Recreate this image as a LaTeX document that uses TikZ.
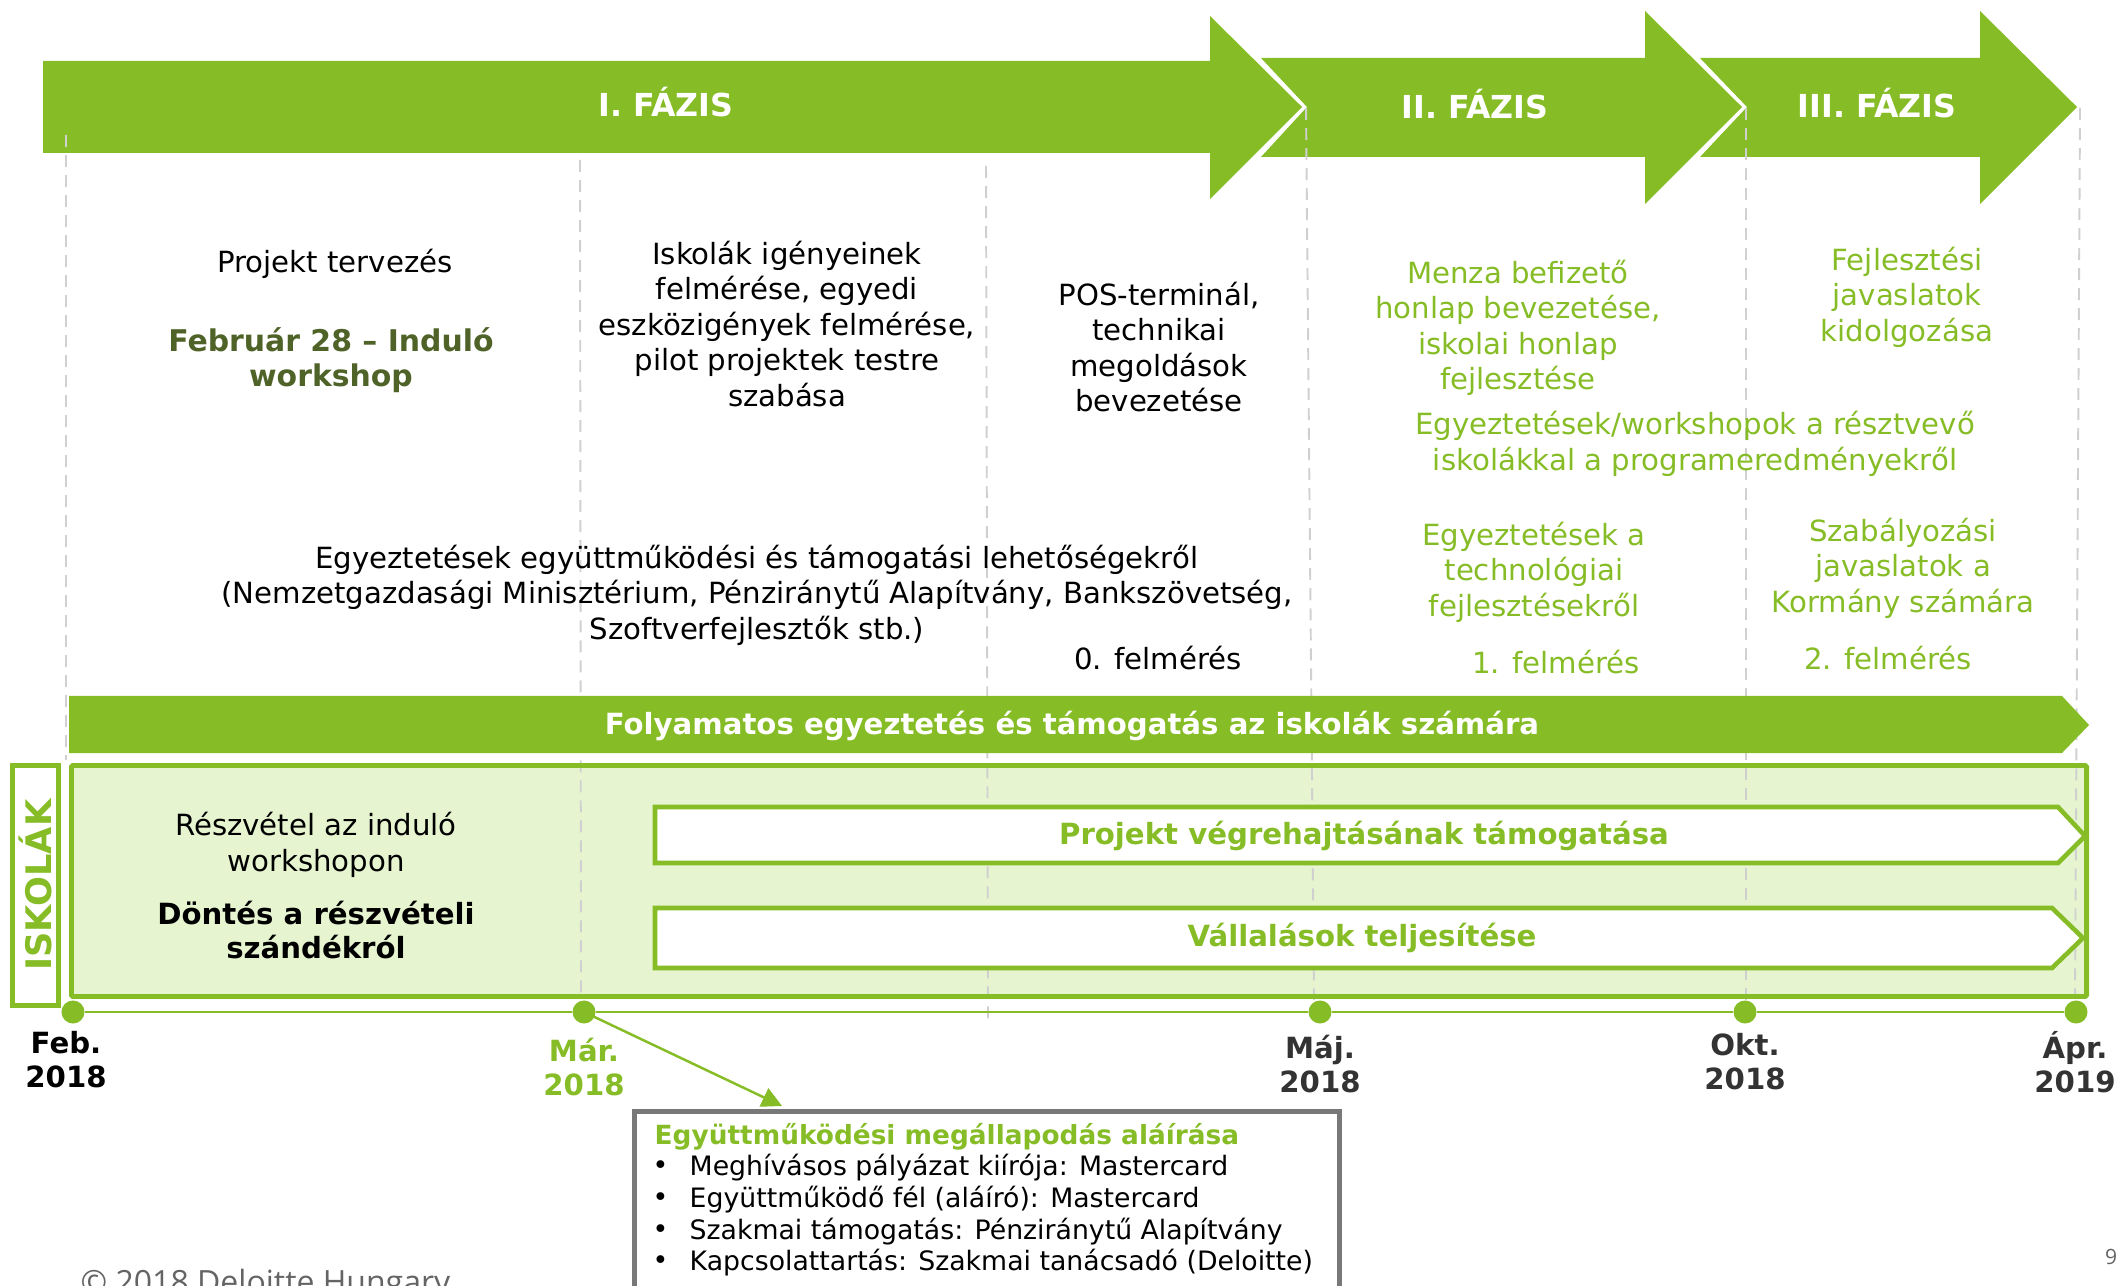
\documentclass[tikz,border=0pt]{standalone}
\usepackage{fontspec}
\setmainfont{DejaVu Sans}
\newfontfamily\copyfont{Open Sans}
\usetikzlibrary{arrows.meta}
\definecolor{dgreen}{RGB}{134,188,37}
\definecolor{lgreen}{RGB}{230,245,208}
\definecolor{olive}{RGB}{79,98,40}
\definecolor{dashgray}{RGB}{208,208,208}
\definecolor{boxgray}{RGB}{120,120,120}
\definecolor{dategray}{RGB}{51,51,51}
\definecolor{copygray}{RGB}{100,100,100}
\begin{document}
\begin{tikzpicture}[x=0.01cm,y=-0.01cm,
  txt/.style={inner sep=0pt, align=center, font=\fontsize{8.3}{10.1}\selectfont},
  gtxt/.style={txt, text=dgreen},
  btxt/.style={inner sep=0pt, align=center, font=\fontsize{8.3}{9.8}\selectfont\bfseries},
  phase/.style={inner sep=0pt, text=white, font=\fontsize{9}{11}\selectfont\bfseries},
  vline/.style={draw=dashgray, line width=0.55pt, dash pattern=on 0.12cm off 0.08cm},
  datelbl/.style={inner sep=0pt, align=center, font=\fontsize{8.3}{9.7}\selectfont\bfseries},
  dotn/.style={circle, fill=dgreen, inner sep=0pt, minimum size=0.23cm},
  chev/.style={draw=dgreen, fill=white, line width=1.3pt, line join=miter},
  boxtxt/.style={inner sep=0pt, anchor=west, font=\fontsize{7.6}{9}\selectfont}
]
\useasboundingbox (0,0) rectangle (2119,1286);
\clip (0,0) rectangle (2119,1286);

% phase arrows
\fill[dgreen] (43,61) -- (1210,61) -- (1210,16) -- (1302,107) -- (1210,199) -- (1210,153) -- (43,153) -- cycle;
\fill[dgreen] (1261,58) -- (1645,58) -- (1645,11) -- (1742,107) -- (1645,204) -- (1645,157) -- (1261,157) -- (1307,107) -- cycle;
\fill[dgreen] (1700,58) -- (1980,58) -- (1980,11) -- (2077,107) -- (1980,204) -- (1980,157) -- (1700,157) -- (1747,107) -- cycle;
\node[phase] (ph1) at (666,102) {I. FÁZIS};
\node[phase] (ph2) at (1475,104) {II. FÁZIS};
\node[phase] (ph3) at (1877,103) {III. FÁZIS};

% light green schools box (fill)
\fill[lgreen] (71.5,765.5) rectangle (2086.5,996.5);

% dashed vertical lines
\draw[vline] (66,135) -- (66,760);
\draw[vline] (580,160) -- (581,998);
\draw[vline] (986,166) -- (988,1018);
\draw[vline] (1306,108) -- (1314,1000);
\draw[vline] (1746,108) -- (1746,1000);
\draw[vline] (2080,108) -- (2075,995);

% green box border
\draw[dgreen, line width=1.4pt, rounded corners=0.4pt] (71.5,765.5) rectangle (2086.5,996.5);

% continuous bar
\fill[dgreen] (69,696) -- (2062,696) -- (2089,725) -- (2062,753) -- (69,753) -- cycle;
\node[btxt, text=white] (folyam) at (1072,726) {Folyamatos egyeztetés és támogatás az iskolák számára};

% chevrons
\draw[chev] (655,807) -- (2058,807) -- (2085,836) -- (2058,863) -- (655,863) -- cycle;
\draw[chev] (655,908) -- (2052,908) -- (2083,938) -- (2052,968) -- (655,968) -- cycle;
\node[btxt, text=dgreen] (proj2) at (1364,836) {Projekt végrehajtásának támogatása};
\node[btxt, text=dgreen] (vall) at (1362,938) {Vállalások teljesítése};

% ISKOLÁK box
\draw[dgreen, line width=1.4pt, fill=white] (12.5,765.5) rectangle (58.5,1005.5);
\node[inner sep=0pt, rotate=90, text=dgreen, font=\fontsize{10}{12}\selectfont\bfseries] (isk) at (35,885) {ISKOLÁK};

\node[txt] (reszv) at (316,845) {Részvétel az induló\\workshopon};
\node[btxt] (dontes) at (316,930) {Döntés a részvételi\\szándékról};

% top texts
\node[txt] (projekt) at (335,264) {Projekt tervezés};
\node[btxt, text=olive, font=\fontsize{8.5}{10.1}\selectfont\bfseries] (febr) at (331,360) {Február 28 – Induló\\workshop};
\node[txt] (igeny) at (787,324) {Iskolák igényeinek\\felmérése, egyedi\\eszközigények felmérése,\\pilot projektek testre\\szabása};
\node[txt] (pos) at (1159,347) {POS-terminál,\\technikai\\megoldások\\bevezetése};
\node[txt] (egyezt) at (757,595) {Egyeztetések együttműködési és támogatási lehetőségekről\\(Nemzetgazdasági Minisztérium, Pénziránytű Alapítvány, Bankszövetség,\\Szoftverfejlesztők stb.)};
\node[txt] (f0) at (1158,658) {0. felmérés};
\node[gtxt] (menza) at (1518,328) {Menza befizető\\honlap bevezetése,\\iskolai honlap\\fejlesztése};
\node[gtxt] (fejl) at (1907,297) {Fejlesztési\\javaslatok\\kidolgozása};
\node[gtxt] (egyws) at (1695,444) {Egyeztetések/workshopok a résztvevő\\iskolákkal a programeredményekről};
\node[gtxt] (techn) at (1534,572) {Egyeztetések a\\technológiai\\fejlesztésekről};
\node[gtxt] (szab) at (1903,568) {Szabályozási\\javaslatok a\\Kormány számára};
\node[gtxt] (f1) at (1556,662) {1. felmérés};
\node[gtxt] (f2) at (1888,658) {2. felmérés};

% timeline
\node[dotn] (feb) at (73,1012) {};
\node[dotn] (mar) at (584,1012) {};
\node[dotn] (maj) at (1320,1012) {};
\node[dotn] (okt) at (1745,1012) {};
\node[dotn] (apr) at (2076,1012) {};
\draw[dgreen, line width=0.7pt] (feb) -- (mar) -- (maj) -- (okt) -- (apr);

\node[datelbl] (lfeb) at (66,1060) {Feb.\\2018};
\node[datelbl, text=dgreen] (lmar) at (584,1067) {Már.\\2018};
\node[datelbl, text=dategray] (lmaj) at (1320,1064) {Máj.\\2018};
\node[datelbl, text=dategray] (lokt) at (1745,1062) {Okt.\\2018};
\node[datelbl, text=dategray] (lapr) at (2075,1062) {Ápr.\\2019};

% agreement box
\draw[boxgray, line width=1.4pt] (634.5,1111.5) rectangle (1339.5,1320);
\coordinate (arrend) at (782,1106);
\draw[dgreen, line width=0.7pt, -{Triangle[length=0.2cm,width=0.2cm]}] (mar.center) -- (arrend);
\node[boxtxt, text=dgreen, font=\fontsize{7.5}{9}\selectfont\bfseries] (btitle) at (654,1137) {Együttműködési megállapodás aláírása};
\node[boxtxt] (b1) at (652,1168) {•};
\node[boxtxt] (t1) at (689,1168) {Meghívásos pályázat kiírója: Mastercard};
\node[boxtxt] (b2) at (652,1200) {•};
\node[boxtxt] (t2) at (689,1200) {Együttműködő fél (aláíró): Mastercard};
\node[boxtxt] (b3) at (652,1232) {•};
\node[boxtxt] (t3) at (689,1232) {Szakmai támogatás: Pénziránytű Alapítvány};
\node[boxtxt] (b4) at (652,1263) {•};
\node[boxtxt] (t4) at (689,1263) {Kapcsolattartás: Szakmai tanácsadó (Deloitte)};

% footer
\node[inner sep=0pt, anchor=base west, text=copygray, font=\copyfont\fontsize{9.1}{11}\selectfont] (copy) at (80,1293) {© 2018 Deloitte Hungary};
\node[inner sep=0pt, text=copygray, font=\copyfont\fontsize{6}{7}\selectfont] (pnum) at (2111,1257) {9};
\end{tikzpicture}
\end{document}
